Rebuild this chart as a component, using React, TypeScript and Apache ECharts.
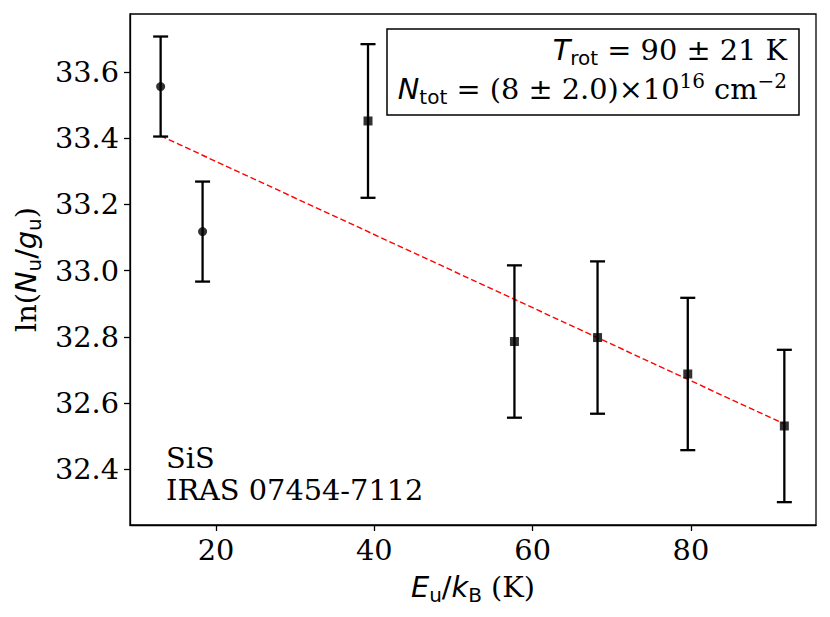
import React, { useEffect, useRef } from "react";
import * as echarts from "echarts";

// ---- data ----
const energies = [13.0, 18.3, 39.2, 57.7, 68.2, 79.6, 91.8];
const lnNg = [33.556, 33.118, 33.452, 32.786, 32.798, 32.688, 32.531];
const errors = [0.151, 0.151, 0.232, 0.23, 0.23, 0.23, 0.23];
const markerShapes = ["circle", "circle", "rect", "rect", "rect", "rect", "rect"];
const fitX = [13.0, 91.8];
const fitY = [33.407, 32.537];
const xTicks = [20, 40, 60, 80];
const yTicks = [32.4, 32.6, 32.8, 33.0, 33.2, 33.4, 33.6];
const xRange = [9.13, 95.8];
const yRange = [32.232, 33.775];

const SERIF = "DejaVu Serif";
const SANS = "DejaVu Sans";
const FS = 28.8;
const SUB = 20;

const mathRich = {
  r: { fontFamily: SERIF, fontSize: FS, color: "#000", lineHeight: 36 },
  i: { fontFamily: SANS, fontStyle: "italic", fontSize: FS, color: "#000", lineHeight: 36 },
  m: { fontFamily: SANS, fontSize: FS, color: "#000", lineHeight: 36 },
  s: { fontFamily: SANS, fontSize: SUB, color: "#000", lineHeight: 17, verticalAlign: "bottom" },
  p: { fontFamily: SERIF, fontSize: SUB, color: "#000", lineHeight: 19, verticalAlign: "top" },
};

export default function App() {
  const ref = useRef<HTMLDivElement>(null);
  useEffect(() => {
    if (!ref.current) return;
    const chart = echarts.init(ref.current, null, { renderer: "svg" });
    const errData = energies.map((x, i) => [x, lnNg[i] - errors[i], lnNg[i] + errors[i]]);
    const ptData = energies.map((x, i) => ({ value: [x, lnNg[i]], symbol: markerShapes[i] }));
    const fitData = fitX.map((x, i) => [x, fitY[i]]);

    const option: any = {
      animation: false,
      backgroundColor: "#fff",
      grid: {
        left: 130,
        top: 14,
        right: 14,
        bottom: 92,
        show: true,
        borderColor: "#000",
        borderWidth: 1.3,
        backgroundColor: "transparent",
      },
      xAxis: {
        type: "value",
        min: xRange[0],
        max: xRange[1],
        axisLine: { show: true, onZero: false, lineStyle: { color: "#000", width: 1.3 } },
        splitLine: { show: false },
        axisTick: { show: true, customValues: xTicks, length: 6, lineStyle: { color: "#000", width: 1.3 } },
        axisLabel: {
          customValues: xTicks,
          margin: 10,
          fontFamily: SERIF,
          fontSize: FS,
          color: "#000",
          formatter: (v: number) => String(v),
        },
        name: "{i|E}{s|u}{m|/}{i|k}{s|B}{r| (K)}",
        nameLocation: "middle",
        nameGap: 44,
        nameTextStyle: { rich: mathRich },
      },
      yAxis: {
        type: "value",
        min: yRange[0],
        max: yRange[1],
        axisLine: { show: true, onZero: false, lineStyle: { color: "#000", width: 1.3 } },
        splitLine: { show: false },
        axisTick: { show: true, customValues: yTicks, length: 6, lineStyle: { color: "#000", width: 1.3 } },
        axisLabel: {
          customValues: yTicks,
          margin: 11,
          fontFamily: SERIF,
          fontSize: FS,
          color: "#000",
          formatter: (v: number) => v.toFixed(1),
        },
        name: "{r|ln(}{i|N}{s|u}{m|/}{i|g}{s|u}{r|)}",
        nameLocation: "middle",
        nameGap: 82,
        nameTextStyle: { rich: mathRich },
      },
      series: [
        {
          type: "line",
          data: fitData,
          symbol: "none",
          lineStyle: { color: "#ff0000", width: 1.4, type: [6, 3] },
          z: 1,
        },
        {
          type: "custom",
          data: errData,
          z: 2,
          renderItem: (params: any, api: any) => {
            const x = api.value(0);
            const lo = api.coord([x, api.value(1)]);
            const hi = api.coord([x, api.value(2)]);
            const cap = 7.5;
            const st = { stroke: "#000", lineWidth: 2.3 };
            return {
              type: "group",
              children: [
                { type: "line", shape: { x1: lo[0], y1: lo[1], x2: hi[0], y2: hi[1] }, style: st },
                { type: "line", shape: { x1: lo[0] - cap, y1: lo[1], x2: lo[0] + cap, y2: lo[1] }, style: st },
                { type: "line", shape: { x1: hi[0] - cap, y1: hi[1], x2: hi[0] + cap, y2: hi[1] }, style: st },
              ],
            };
          },
        },
        {
          type: "scatter",
          data: ptData,
          symbolSize: 9,
          itemStyle: { color: "#000" },
          z: 3,
        },
      ],
      graphic: [
        {
          type: "rect",
          shape: { x: 387, y: 29, width: 412, height: 86 },
          style: { fill: "#fff", stroke: "#000", lineWidth: 1.5 },
          z: 10,
        },
        {
          type: "text",
          x: 787,
          y: 50,
          z: 11,
          style: {
            text: "{i|T}{s|rot}{r| = 90 ± 21 K}",
            align: "right",
            verticalAlign: "middle",
            rich: mathRich,
          },
        },
        {
          type: "text",
          x: 787,
          y: 89,
          z: 11,
          style: {
            text: "{i|N}{s|tot}{r| = (8 ± 2.0)×10}{p|16}{r| cm}{p|−2}",
            align: "right",
            verticalAlign: "middle",
            rich: mathRich,
          },
        },
        {
          type: "text",
          x: 166,
          y: 458,
          z: 11,
          style: {
            text: "SiS",
            align: "left",
            verticalAlign: "middle",
            fontFamily: SERIF,
            fontSize: FS,
            fill: "#000",
          },
        },
        {
          type: "text",
          x: 166,
          y: 490,
          z: 11,
          style: {
            text: "IRAS 07454-7112",
            align: "left",
            verticalAlign: "middle",
            fontFamily: SERIF,
            fontSize: FS,
            fill: "#000",
          },
        },
      ],
    };
    chart.setOption(option);
    return () => chart.dispose();
  }, []);
  return (
    <div
      ref={ref}
      style={{ position: "fixed", left: 0, top: 0, width: 830, height: 617, background: "#fff" }}
    />
  );
}
